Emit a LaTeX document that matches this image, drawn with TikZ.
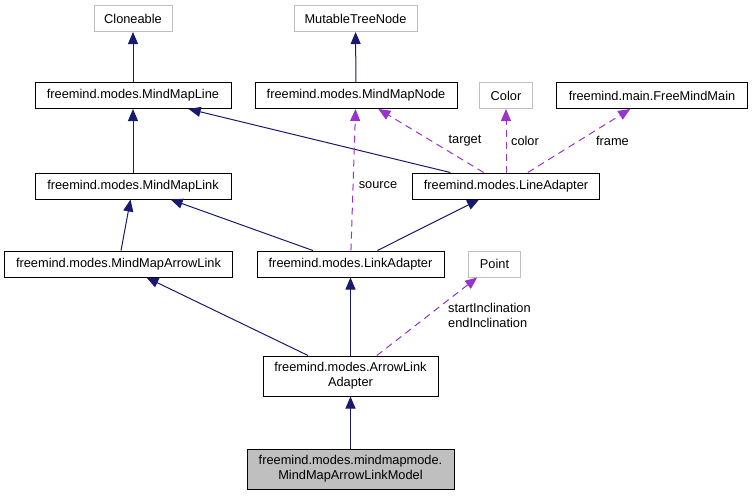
\documentclass[tikz,border=0pt]{standalone}
\usepackage{fontspec}
\setmainfont{Liberation Sans}
\usetikzlibrary{arrows.meta}
\definecolor{edgeblue}{RGB}{25,25,112}
\definecolor{edgepurple}{RGB}{154,50,205}
\definecolor{boxgray}{RGB}{191,191,191}

\begin{document}
\begin{tikzpicture}[x=1pt,y=-1pt,
	font=\fontsize{12.8}{15}\selectfont,
	cls/.style={draw=black, line width=1pt, minimum height=26pt, inner sep=0pt, fill=white},
	ext/.style={draw=boxgray, line width=1pt, minimum height=26pt, inner sep=0pt, fill=white},
	inherit/.style={edgeblue, line width=1pt, -{Triangle[length=12pt,width=10pt]}},
	usage/.style={edgepurple, line width=1pt, dash pattern=on 7pt off 5pt, -{Triangle[length=12pt,width=10pt]}},
	lbl/.style={inner sep=0pt}]
	\useasboundingbox (0,0) rectangle (752,496);
	% classes
	\node[ext, minimum width=78pt] (cloneable) at (133,18.5) {Cloneable};
	\node[ext, minimum width=123pt] (mtnode) at (355.5,18.5) {MutableTreeNode};
	\node[cls, minimum width=196pt] (mmline) at (133,95.5) {freemind.modes.MindMapLine};
	\node[cls, minimum width=202pt] (mmnode) at (356,95.5) {freemind.modes.MindMapNode};
	\node[ext, minimum width=53pt] (color) at (506,95.5) {Color};
	\node[cls, minimum width=191pt] (fmmain) at (652,95.5) {freemind.main.FreeMindMain};
	\node[cls, minimum width=196pt] (mmlink) at (133,186) {freemind.modes.MindMapLink};
	\node[cls, minimum width=187pt] (lineadapter) at (506,186) {freemind.modes.LineAdapter};
	\node[cls, minimum width=228pt] (mmarrowlink) at (118.5,264) {freemind.modes.MindMapArrowLink};
	\node[cls, minimum width=187pt] (linkadapter) at (350.5,264) {freemind.modes.LinkAdapter};
	\node[ext, minimum width=52pt] (point) at (494.5,264) {Point};
	\node[cls, minimum width=175pt, minimum height=40pt, align=center] (alinkadapter) at (350.5,376) {freemind.modes.ArrowLink\\Adapter};
	\node[cls, fill=boxgray, minimum width=207pt, minimum height=40pt, align=center] (model) at (350.5,469) {freemind.modes.mindmapmode.\\MindMapArrowLinkModel};
	% inheritance
	\draw[inherit] (mmline) -- (cloneable);
	\draw[inherit] (mmnode) -- (mtnode);
	\draw[inherit] (mmlink) -- (mmline);
	\draw[inherit] (lineadapter) -- (mmline);
	\draw[inherit] (mmarrowlink) -- (mmlink);
	\draw[inherit] (linkadapter) -- (mmlink);
	\draw[inherit] (linkadapter) -- (lineadapter);
	\draw[inherit] (alinkadapter) -- (mmarrowlink);
	\draw[inherit] (alinkadapter) -- (linkadapter);
	\draw[inherit] (model) -- (alinkadapter);
	% usage
	\draw[usage] (linkadapter) -- (mmnode);
	\draw[usage] (lineadapter) -- (mmnode);
	\draw[usage] (lineadapter) -- (color);
	\draw[usage] (lineadapter) -- (fmmain);
	\draw[usage] (alinkadapter) -- (point);
	\node[lbl] (sourcelbl) at (378,185.5) {source};
	\node[lbl] (targetlbl) at (465,141) {target};
	\node[lbl] (colorlbl) at (525,141) {color};
	\node[lbl] (framelbl) at (612.5,141) {frame};
	\node[lbl, anchor=west, align=left] (inclbl) at (448,315) {startInclination\\endInclination};
\end{tikzpicture}
\end{document}
